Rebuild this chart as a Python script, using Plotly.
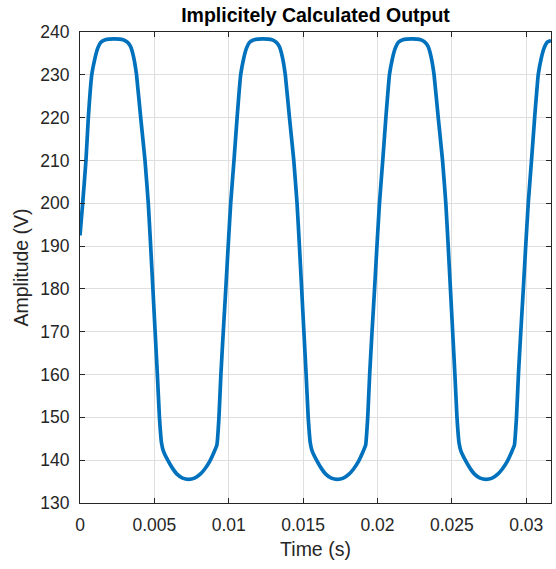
import plotly.graph_objects as go

# Time samples (s)
time_s = [
    0.0000, 0.00018, 0.00040, 0.00056, 0.00079, 0.00100, 0.00120, 0.00140, 0.00170,
    0.00230, 0.00290, 0.00320, 0.00340, 0.00360, 0.00380, 0.00408, 0.00437, 0.00459,
    0.00475, 0.00490, 0.00505, 0.00520, 0.00534, 0.00548, 0.00560, 0.00590, 0.00620,
    0.00650, 0.00690, 0.00730, 0.00770, 0.00810, 0.00840, 0.00870, 0.00900, 0.00920,
    0.00934, 0.00947, 0.00963, 0.00980, 0.00996,
    0.01013, 0.01035, 0.01056, 0.01080, 0.01100, 0.01120, 0.01140, 0.01170,
    0.01230, 0.01290, 0.01320, 0.01340, 0.01360, 0.01380, 0.01408, 0.01437, 0.01459,
    0.01475, 0.01490, 0.01505, 0.01520, 0.01534, 0.01548, 0.01560, 0.01590, 0.01620,
    0.01650, 0.01690, 0.01730, 0.01770, 0.01810, 0.01840, 0.01870, 0.01900, 0.01920,
    0.01934, 0.01947, 0.01963, 0.01980, 0.01996,
    0.02013, 0.02035, 0.02056, 0.02080, 0.02100, 0.02120, 0.02140, 0.02170,
    0.02230, 0.02290, 0.02320, 0.02340, 0.02360, 0.02380, 0.02408, 0.02437, 0.02459,
    0.02475, 0.02490, 0.02505, 0.02520, 0.02534, 0.02548, 0.02560, 0.02590, 0.02620,
    0.02650, 0.02690, 0.02730, 0.02770, 0.02810, 0.02840, 0.02870, 0.02900, 0.02920,
    0.02934, 0.02947, 0.02963, 0.02980, 0.02996,
    0.03013, 0.03035, 0.03056, 0.03080, 0.03100, 0.03120, 0.03140, 0.03166,
]

# Amplitude samples (V)
amplitude_v = [
    192.5, 200.0, 210.0, 220.0, 230.0, 233.8, 236.3, 237.6, 238.2,
    238.4, 238.2, 237.6, 236.6, 234.2, 230.0, 220.0, 210.0, 200.0,
    190.0, 180.0, 170.0, 160.0, 150.0, 144.0, 142.2, 140.0, 138.2,
    136.8, 135.8, 135.5, 135.8, 136.8, 138.0, 139.6, 141.8, 143.5,
    150.0, 160.0, 170.0, 180.0, 190.0,
    200.0, 210.0, 220.0, 230.0, 233.8, 236.3, 237.6, 238.2,
    238.4, 238.2, 237.6, 236.6, 234.2, 230.0, 220.0, 210.0, 200.0,
    190.0, 180.0, 170.0, 160.0, 150.0, 144.0, 142.2, 140.0, 138.2,
    136.8, 135.8, 135.5, 135.8, 136.8, 138.0, 139.6, 141.8, 143.5,
    150.0, 160.0, 170.0, 180.0, 190.0,
    200.0, 210.0, 220.0, 230.0, 233.8, 236.3, 237.6, 238.2,
    238.4, 238.2, 237.6, 236.6, 234.2, 230.0, 220.0, 210.0, 200.0,
    190.0, 180.0, 170.0, 160.0, 150.0, 144.0, 142.2, 140.0, 138.2,
    136.8, 135.8, 135.5, 135.8, 136.8, 138.0, 139.6, 141.8, 143.5,
    150.0, 160.0, 170.0, 180.0, 190.0,
    200.0, 210.0, 220.0, 230.0, 233.8, 236.3, 237.6, 238.0,
]

x_tick_vals = [0, 0.005, 0.01, 0.015, 0.02, 0.025, 0.03]
x_tick_text = ["0", "0.005", "0.01", "0.015", "0.02", "0.025", "0.03"]
y_tick_vals = [130, 140, 150, 160, 170, 180, 190, 200, 210, 220, 230, 240]

FONT = "Liberation Sans, Arial, Helvetica, sans-serif"
AX = "#262626"
GRID = "#dfdfdf"

fig = go.Figure()
fig.add_trace(go.Scatter(
    x=time_s, y=amplitude_v, mode="lines",
    line=dict(color="#0072BD", width=3.7, shape="spline", smoothing=0.3),
    showlegend=False, hoverinfo="skip",
))

axis_common = dict(
    showline=True, linecolor=AX, linewidth=1, mirror="ticks",
    ticks="inside", ticklen=5, tickcolor=AX, tickwidth=1,
    showgrid=True, gridcolor=GRID, gridwidth=1, zeroline=False,
    tickfont=dict(family=FONT, size=17.5, color=AX),
    automargin=False,
)

fig.update_layout(
    width=556, height=569,
    margin=dict(l=80, r=5, t=32, b=66, autoexpand=False),
    paper_bgcolor="white", plot_bgcolor="white",
    title=dict(
        text="<b>Implicitely Calculated Output</b>",
        font=dict(family=FONT, size=19.5, color="#000000"),
        x=0.5, xref="paper", xanchor="center",
        y=1 - 15 / 569, yref="container", yanchor="middle",
    ),
    xaxis=dict(
        range=[0, 0.03166], tickvals=x_tick_vals, ticktext=x_tick_text,
        title=dict(text="Time (s)", font=dict(family=FONT, size=19.5, color=AX), standoff=8),
        ticklabelstandoff=6,
        **axis_common,
    ),
    yaxis=dict(
        range=[130, 240], tickvals=y_tick_vals,
        title=dict(text="Amplitude (V)", font=dict(family=FONT, size=19.5, color=AX), standoff=6),
        ticklabelstandoff=6,
        **axis_common,
    ),
)

fig.write_html(
    "out.html",
    config={"displayModeBar": False},
    post_script="document.body.style.margin='0';document.body.style.overflow='hidden';",
)
